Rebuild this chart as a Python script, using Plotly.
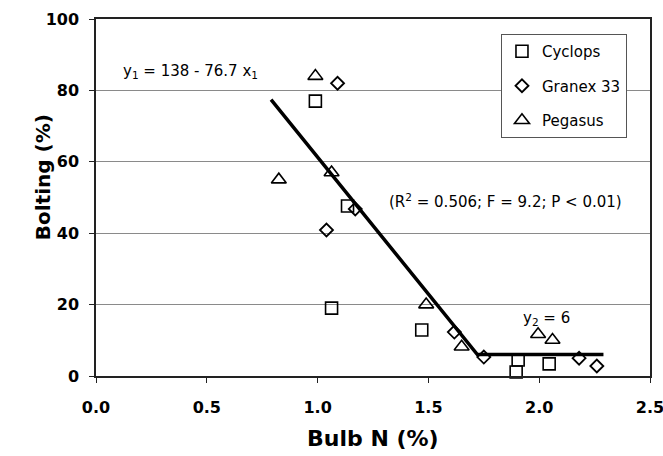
import plotly.graph_objects as go

# ---- data ----
cyclops_x = [0.99, 1.135, 1.063, 1.47, 1.905, 1.896, 2.045]
cyclops_y = [77.0, 47.6, 19.0, 12.9, 4.5, 1.1, 3.4]

granex_x = [1.09, 1.17, 1.04, 1.617, 1.75, 2.18, 2.26]
granex_y = [82.0, 46.8, 40.9, 12.3, 5.3, 5.0, 2.8]

pegasus_x = [0.99, 0.825, 1.063, 1.49, 1.65, 1.995, 2.06]
pegasus_y = [84.0, 55.0, 57.0, 20.0, 8.2, 11.7, 10.1]

fit_x = [0.79, 1.721, 2.29]
fit_y = [77.4, 6.0, 6.0]

x_ticks = [0.0, 0.5, 1.0, 1.5, 2.0, 2.5]
y_ticks = [0, 20, 40, 60, 80, 100]

FONT = "DejaVu Sans"

fig = go.Figure()

fig.add_trace(go.Scatter(
    x=fit_x, y=fit_y, mode="lines", showlegend=False,
    line=dict(color="black", width=3.5), hoverinfo="skip"))

fig.add_trace(go.Scatter(
    x=cyclops_x, y=cyclops_y, mode="markers", name="Cyclops",
    legendgroup="c", cliponaxis=False,
    marker=dict(symbol="square-open", size=12, color="black",
                line=dict(width=1.6, color="black"))))
fig.add_trace(go.Scatter(
    x=granex_x, y=granex_y, mode="markers", name="Granex 33",
    legendgroup="g", cliponaxis=False,
    marker=dict(symbol="diamond-open", size=10, color="black",
                line=dict(width=1.8, color="black"))))
fig.add_trace(go.Scatter(
    x=pegasus_x, y=pegasus_y, mode="markers", name="Pegasus",
    legendgroup="p", cliponaxis=False,
    marker=dict(symbol="triangle-up-open", size=13, color="black",
                line=dict(width=1.6, color="black"))))

axis_common = dict(
    showline=True, linecolor="#222", linewidth=1.5, mirror=True,
    ticks="outside", ticklen=5, tickcolor="#222", tickwidth=1,
    tickfont=dict(family=FONT, size=16, color="black", weight="bold"),
    zeroline=False, automargin=False, ticklabeloverflow="allow",
)

fig.update_xaxes(range=[0, 2.5], tickvals=x_ticks,
                 ticktext=[f"{v:.1f}" for v in x_ticks],
                 showgrid=False, ticklabelstandoff=11, **axis_common)
fig.update_yaxes(range=[0, 100], tickvals=y_ticks,
                 ticktext=[str(v) for v in y_ticks],
                 showgrid=True, gridcolor="#8a8a8a", gridwidth=1,
                 ticklabelstandoff=7, **axis_common)

ann_font = dict(family=FONT, size=15, color="black")
fig.add_annotation(x=0.113, y=85.2, xref="x", yref="y", xanchor="left",
                   yanchor="middle", showarrow=False, font=ann_font,
                   text="y<sub>1</sub> = 138 - 76.7 x<sub>1</sub>")
fig.add_annotation(x=1.315, y=49.0, xref="x", yref="y", xanchor="left",
                   yanchor="middle", showarrow=False, font=ann_font,
                   text="(R<sup>2</sup> = 0.506; F = 9.2; P &lt; 0.01)")
fig.add_annotation(x=1.919, y=16.2, xref="x", yref="y", xanchor="left",
                   yanchor="middle", showarrow=False, font=ann_font,
                   text="y<sub>2</sub> = 6")

# axis titles
fig.add_annotation(x=0, y=0.557, xref="paper", yref="paper",
                   xanchor="center", yanchor="middle", xshift=-53,
                   textangle=-90, showarrow=False,
                   font=dict(family=FONT, size=20, color="black", weight="bold"),
                   text="Bolting (%)")
fig.add_annotation(x=0.5, y=0, xref="paper", yref="paper",
                   xanchor="center", yanchor="middle", yshift=-62,
                   showarrow=False,
                   font=dict(family=FONT, size=22, color="black", weight="bold"),
                   text="Bulb N (%)")

fig.update_layout(
    width=663, height=456,
    margin=dict(l=96, r=13, t=19, b=80),
    paper_bgcolor="white", plot_bgcolor="white",
    font=dict(family=FONT, color="black"),
    legend=dict(x=0.731, y=0.958, xanchor="left", yanchor="top",
                bgcolor="white", bordercolor="#555", borderwidth=1,
                font=dict(family=FONT, size=15, color="black"),
                tracegroupgap=12),
)

fig.write_html(
    "out.html",
    config={"displayModeBar": False},
    post_script="document.body.style.margin='0';"
                "document.body.style.overflow='hidden';",
)
